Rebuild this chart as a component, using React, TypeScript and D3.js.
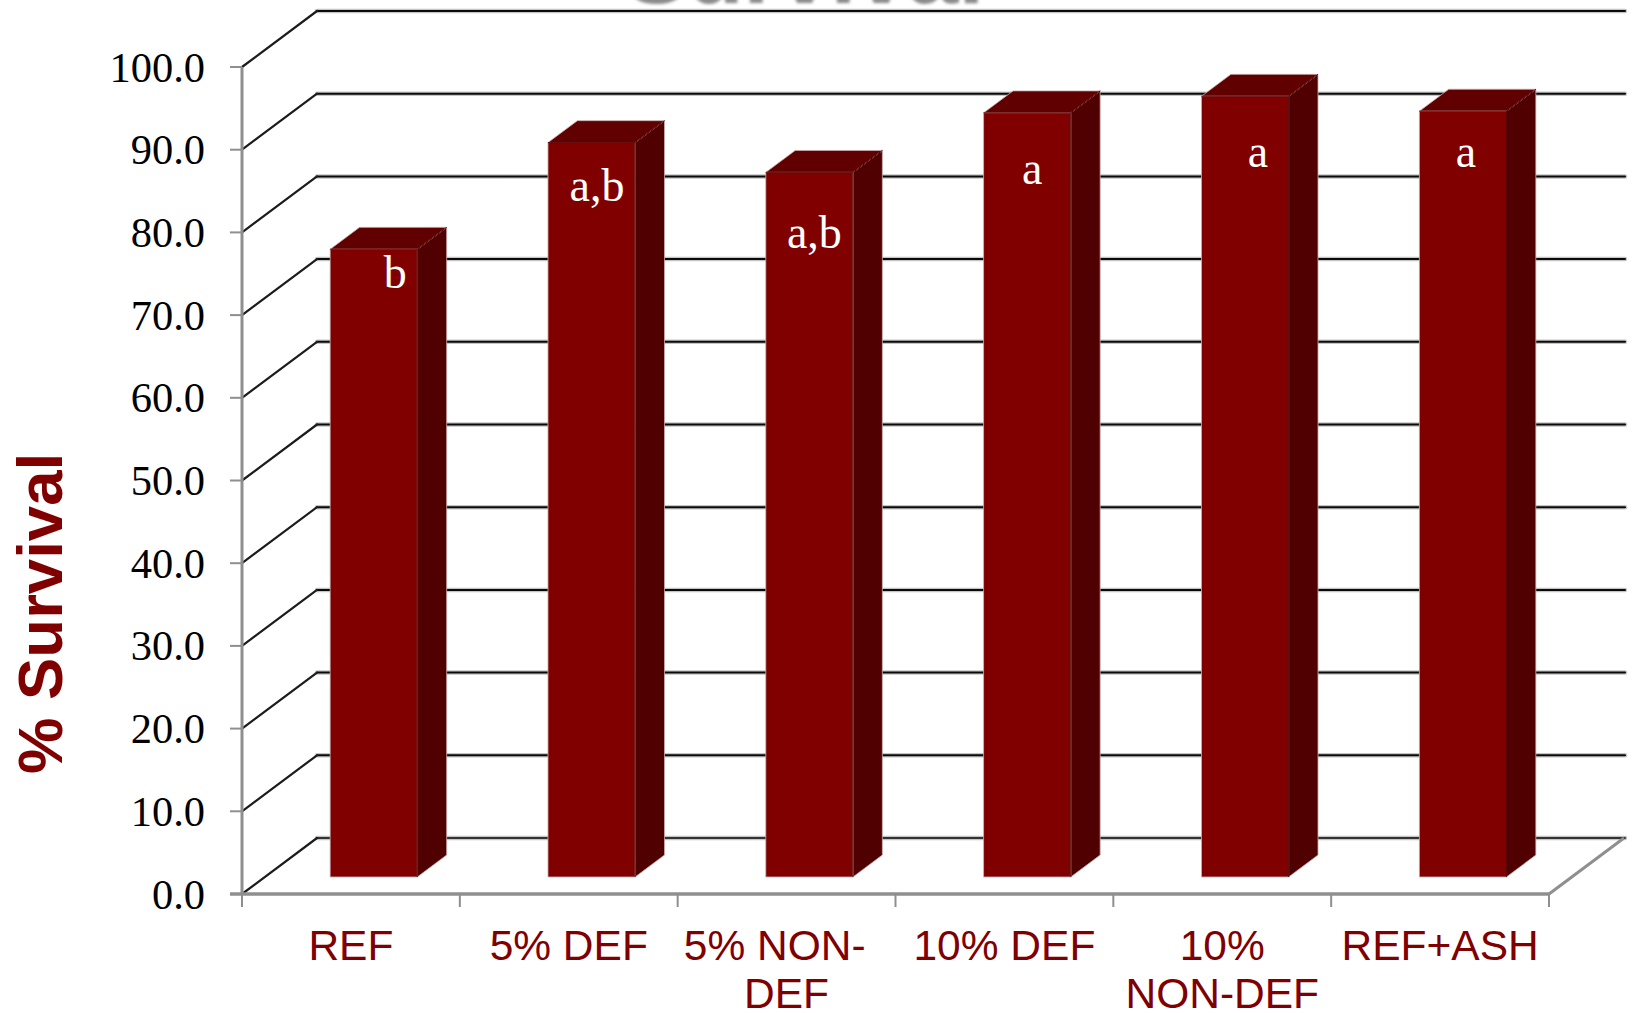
import * as d3 from "d3";

// Treatment groups, mean survival and significance letters
const categories = ["REF", "5% DEF", "5% NON-DEF", "10% DEF", "10% NON-DEF", "REF+ASH"];
const categoryLines = [["REF"], ["5% DEF"], ["5% NON-\u00A0\u00A0", "DEF"], ["10% DEF"], ["10%", "NON-DEF"], ["REF+ASH"]];
const survival = [75.9, 88.8, 85.2, 92.4, 94.4, 92.6];
const letters = ["b", "a,b", "a,b", "a", "a", "a"];
const yTicks = [0, 10, 20, 30, 40, 50, 60, 70, 80, 90, 100];

// Hand placement of each letter, relative to the top centre of its bar
const letterDx = [21.5, 5.5, 5, 5, 13, 3];
const letterDy = [39, 58, 76, 71, 71, 56];

const WIDTH = 1633;
const HEIGHT = 1013;
const MAROON = "#800000";
const SIDE = "#500000";
const TOP = "#600000";
const AXIS_GRAY = "#8f8f8f";

// Oblique projection of the chart box: the back wall is offset by (wallDx, wallDy)
const wallDx = 75;
const wallDy = -56;
const barFrontDepth = 0.304;
const barBackDepth = 0.696;

const y = d3.scaleLinear().domain([0, 100]).range([894, 67]);
const x = d3.scaleBand().domain(categories).range([242, 1549]).paddingInner(0.6).paddingOuter(0.3);
const fmt = d3.format(".1f");

function Bar({ name, value, letter, i }: { name: string; value: number; letter: string; i: number }) {
  const fx = (x(name) as number) + wallDx * barFrontDepth;
  const w = x.bandwidth();
  const base = y(0) + wallDy * barFrontDepth;
  const top = y(value) + wallDy * barFrontDepth;
  const dx = wallDx * (barBackDepth - barFrontDepth);
  const dy = wallDy * (barBackDepth - barFrontDepth);
  return (
    <g>
      <polygon
        points={`${fx + w},${top} ${fx + w + dx},${top + dy} ${fx + w + dx},${base + dy} ${fx + w},${base}`}
        fill={SIDE}
        stroke="#c9b0b0"
        strokeWidth={0.8}
      />
      <polygon
        points={`${fx},${top} ${fx + dx},${top + dy} ${fx + w + dx},${top + dy} ${fx + w},${top}`}
        fill={TOP}
        stroke="#c9b0b0"
        strokeWidth={0.8}
      />
      <rect x={fx} y={top} width={w} height={base - top} fill={MAROON} stroke="#c9b0b0" strokeWidth={0.8} />
      {/* Shared edges between faces stay dark */}
      <line x1={fx + w} x2={fx + w} y1={top} y2={base} stroke={SIDE} strokeWidth={1} />
      <line x1={fx} x2={fx + w} y1={top} y2={top} stroke={TOP} strokeWidth={1} />
      <line x1={fx + w} x2={fx + w + dx} y1={top} y2={top + dy} stroke={SIDE} strokeWidth={1} />
      <text
        x={fx + w / 2 + letterDx[i]}
        y={top + letterDy[i]}
        textAnchor="middle"
        fontFamily="'Liberation Serif', serif"
        fontSize={46}
        fill="#ffffff"
      >
        {letter}
      </text>
    </g>
  );
}

export default function App() {
  const left = x.range()[0];
  const right = x.range()[1];
  const slots = d3.range(categories.length + 1).map((k) => left + (k * (right - left)) / categories.length);

  return (
    <svg
      width={WIDTH}
      height={HEIGHT}
      viewBox={`0 0 ${WIDTH} ${HEIGHT}`}
      style={{ position: "absolute", left: 0, top: 0, display: "block", background: "#fff" }}
    >
      <defs>
        <filter id="soft" x="-5%" y="-50%" width="110%" height="200%">
          <feGaussianBlur stdDeviation="1.6" />
        </filter>
      </defs>

      {/* Chart title, running off the top edge of the page */}
      <text
        x={805}
        y={3}
        textAnchor="middle"
        fontFamily="'Liberation Sans', Arial, sans-serif"
        fontWeight="bold"
        fontSize={92}
        fill="#8a8a8a"
        filter="url(#soft)"
      >
        Survival
      </text>

      {/* Back wall gridlines and their slanted returns on the side wall */}
      {yTicks.map((t) => {
        const isFloor = t === 0;
        return (
          <g key={t} fill="none" strokeLinecap="round">
            <line x1={left + wallDx} x2={right + wallDx + 1} y1={y(t) + wallDy} y2={y(t) + wallDy} stroke="#c4c4c4" strokeWidth={4.5} />
            <line
              x1={left + wallDx}
              x2={right + wallDx + 1}
              y1={y(t) + wallDy}
              y2={y(t) + wallDy}
              stroke={isFloor ? "#333333" : "#0a0a0a"}
              strokeWidth={2}
            />
            <line x1={left} x2={left + wallDx} y1={y(t)} y2={y(t) + wallDy} stroke="#1c1c1c" strokeWidth={2.2} />
          </g>
        );
      })}

      {/* Floor edges and axes */}
      <line x1={right} x2={right + wallDx} y1={y(0)} y2={y(0) + wallDy} stroke={AXIS_GRAY} strokeWidth={3} />
      <line x1={left - 12} x2={right} y1={y(0)} y2={y(0)} stroke={AXIS_GRAY} strokeWidth={3.5} />
      <line x1={left} x2={left} y1={y(100)} y2={y(0)} stroke={AXIS_GRAY} strokeWidth={3} />
      {yTicks.map((t) => (
        <line key={t} x1={left - 12} x2={left} y1={y(t)} y2={y(t)} stroke={AXIS_GRAY} strokeWidth={2} />
      ))}
      {slots.map((sx) => (
        <line key={sx} x1={sx} x2={sx} y1={y(0)} y2={y(0) + 13} stroke={AXIS_GRAY} strokeWidth={2} />
      ))}

      {/* Bars with their significance letters */}
      {categories.map((name, i) => (
        <Bar key={name} name={name} value={survival[i]} letter={letters[i]} i={i} />
      ))}

      {/* Value axis labels */}
      {yTicks.map((t) => (
        <text
          key={t}
          x={205}
          y={y(t) + 14.5}
          textAnchor="end"
          fontFamily="'Liberation Serif', serif"
          fontSize={42.5}
          fill="#000000"
        >
          {fmt(t)}
        </text>
      ))}

      {/* Category labels */}
      {categories.map((name, i) =>
        categoryLines[i].map((line, k) => (
          <text
            key={line}
            x={(slots[i] + slots[i + 1]) / 2}
            y={960 + k * 48}
            textAnchor="middle"
            fontFamily="'Liberation Sans', Arial, sans-serif"
            fontSize={42.5}
            fill={MAROON}
          >
            {line}
          </text>
        )),
      )}

      {/* Value axis title */}
      <text
        transform="translate(62,613.5) rotate(-90)"
        textAnchor="middle"
        fontFamily="'Liberation Sans', Arial, sans-serif"
        fontWeight="bold"
        fontSize={63.5}
        fill={MAROON}
      >
        % Survival
      </text>
    </svg>
  );
}
